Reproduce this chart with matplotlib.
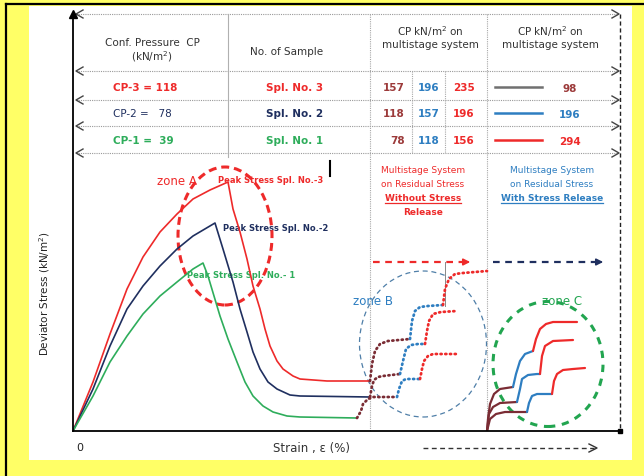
import matplotlib.pyplot as plt
import matplotlib.patches as mpatches

# colours
RED = '#EE2A2A'
NAVY = '#1F2F5F'
GREEN = '#2EAD5B'
BLUE = '#2E7EC1'
MAROON = '#7A2C34'
NUM_MAROON = '#9C3A3A'
GRAY = '#707070'

# ---- schematic stress-strain curves (arbitrary units, origin at 0,0) ----
spl3_strain = [0, 20, 37, 54, 70, 87, 104, 120, 137, 155, 160, 167, 174, 180, 187, 192, 197, 204, 210, 220, 227, 254, 297]
spl3_stress = [0, 49, 97, 142, 174, 199, 217, 232, 241, 249, 222, 199, 172, 145, 122, 102, 85, 70, 62, 55, 52, 50, 50]
spl2_strain = [0, 20, 37, 54, 70, 87, 104, 120, 142, 150, 160, 167, 174, 180, 187, 195, 204, 217, 227, 297]
spl2_stress = [0, 42, 85, 122, 145, 165, 182, 195, 208, 182, 149, 122, 99, 79, 62, 49, 42, 36, 35, 34]
spl1_strain = [0, 20, 37, 54, 70, 87, 104, 120, 130, 135, 147, 155, 164, 172, 180, 190, 200, 214, 227, 284]
spl1_stress = [0, 35, 69, 95, 117, 135, 149, 162, 168, 155, 115, 92, 69, 49, 35, 25, 19, 15, 14, 13]

# zone B : multistage without stress release (dotted), stage order maroon -> blue -> red
zoneB_s1 = {'maroon': ([284, 288, 290, 295, 300, 324], [13, 20, 27, 32, 34, 34]),
            'blue': ([324, 326, 329, 333, 347], [34, 42, 50, 52, 52]),
            'red': ([347, 349, 351, 355, 360, 384], [52, 62, 70, 75, 77, 77])}
zoneB_s2 = {'maroon': ([297, 299, 301, 305, 310, 327], [34, 45, 51, 54, 55, 57]),
            'blue': ([327, 330, 333, 338, 345, 352], [57, 70, 82, 86, 87, 87]),
            'red': ([352, 354, 356, 360, 368, 384], [87, 100, 110, 117, 119, 120])}
zoneB_s3 = {'maroon': ([297, 299, 302, 307, 315, 337], [50, 67, 80, 87, 90, 92]),
            'blue': ([337, 339, 342, 347, 355, 370], [92, 110, 120, 124, 125, 126]),
            'red': ([370, 372, 376, 382, 390, 414], [126, 142, 152, 157, 158, 160])}

# zone C : multistage with stress release (solid)
zoneC_upper = {'maroon': ([414, 415, 417, 421, 427, 440], [0, 12, 27, 37, 42, 44]),
               'blue': ([440, 443, 447, 452, 460], [44, 57, 70, 77, 80]),
               'red': ([460, 463, 467, 473, 480, 504], [80, 92, 102, 107, 109, 109])}
zoneC_middle = {'maroon': ([414, 416, 420, 427, 444], [0, 17, 24, 28, 29]),
                'blue': ([444, 447, 449, 455, 464, 467], [29, 42, 52, 56, 57, 57]),
                'red': ([467, 469, 472, 480, 500], [57, 75, 85, 90, 91])}
zoneC_lower = {'maroon': ([414, 417, 423, 432, 454], [0, 12, 17, 19, 19]),
               'blue': ([454, 456, 459, 464, 472, 479], [19, 28, 35, 37, 37, 37]),
               'red': ([479, 481, 484, 490, 500, 512], [37, 50, 57, 61, 62, 63])}

# ---- table contents ----
cp_labels = ['CP-3 = 118', 'CP-2 =   78', 'CP-1 =  39']
cp_colors = [RED, NAVY, GREEN]
cp_weights = ['bold', 'normal', 'bold']
spl_labels = ['Spl. No. 3', 'Spl. No. 2', 'Spl. No. 1']
ms_first = [157, 118, 78]
ms_second = [196, 157, 118]
ms_third = [235, 196, 156]
release_cp = [98, 196, 294]
release_line_colors = [GRAY, BLUE, RED]
release_text_colors = [NUM_MAROON, BLUE, RED]

stage_colors = {'maroon': MAROON, 'blue': BLUE, 'red': RED}

W, H = 644, 477
fig = plt.figure(figsize=(W / 100, H / 100), dpi=100)
fig.patch.set_facecolor('#FFFF66')

# overlay axes in pixel units for the frame / table / labels
ov = fig.add_axes([0, 0, 1, 1])
ov.set_xlim(0, W)
ov.set_ylim(H, 0)
ov.axis('off')
ov.patch.set_alpha(0)
ov.add_patch(mpatches.Rectangle((29, 7), 603, 454, facecolor='white', edgecolor='none', zorder=0))
ov.plot([6, 6], [5, H], color='black', lw=1.6)
ov.plot([6, W], [5, 5], color='black', lw=1.6)

# data axes for the curves
x0, y0, x1, y1 = 73, 432, 620, 15
ax = fig.add_axes([x0 / W, (H - y0) / H, (x1 - x0) / W, (y0 - y1) / H])
ax.set_xlim(0, x1 - x0)
ax.set_ylim(0, y0 - y1)
ax.patch.set_alpha(0)
for s in ['top', 'right']:
    ax.spines[s].set_visible(False)
ax.spines['left'].set_linewidth(1.3)
ax.spines['bottom'].set_linewidth(1.3)
ax.set_xticks([])
ax.set_yticks([])
ax.plot([0], [y0 - y1], marker='^', color='black', ms=6, clip_on=False)
ax.plot([x1 - x0], [0], marker='s', color='black', ms=3, clip_on=False)

curve = dict(lw=1.2, solid_joinstyle='round', solid_capstyle='round')
ax.plot(spl3_strain, spl3_stress, color=RED, **curve)
ax.plot(spl2_strain, spl2_stress, color=NAVY, **curve)
ax.plot(spl1_strain, spl1_stress, color=GREEN, **curve)

for stair in [zoneB_s1, zoneB_s2, zoneB_s3]:
    for key, (xs, ys) in stair.items():
        ax.plot(xs, ys, color=stage_colors[key], lw=2, linestyle=(0, (0.4, 1.3)),
                dash_capstyle='round')
for stair in [zoneC_upper, zoneC_middle, zoneC_lower]:
    for key, (xs, ys) in stair.items():
        ax.plot(xs, ys, color=stage_colors[key], lw=1.6, solid_capstyle='round',
                solid_joinstyle='round')

# zone ellipses
ax.add_patch(mpatches.Ellipse((152, 195), 94, 138, fill=False, edgecolor=RED, lw=2.2,
                              linestyle=(0, (2.6, 1.6))))
ax.add_patch(mpatches.Ellipse((350, 87), 127, 146, fill=False, edgecolor='#4F7FA8', lw=0.9,
                              linestyle=(0, (4, 3))))
ax.add_patch(mpatches.Ellipse((475, 67), 110, 125, fill=False, edgecolor='#22A550', lw=2.2,
                              linestyle=(0, (2.4, 2.2))))

# ---- table grid ----
def chevron(xtip, y, d, size=7, half=4, color='#444444'):
    ov.plot([xtip - d * size, xtip, xtip - d * size], [y - half, y, y + half], color=color, lw=1)

dot = (0, (1, 1))
for yy in [15, 72, 101, 127, 154]:
    ov.plot([76, 618], [yy, yy], color='#9A9A9A', lw=0.8, linestyle=dot)
    chevron(76, yy, -1)
    chevron(619, yy, 1)
ov.plot([228, 228], [15, 158], color='#B0B0B0', lw=0.8)
for xx in [370, 487]:
    ov.plot([xx, xx], [15, 432], color='#A8A8A8', lw=0.8, linestyle=dot)
for xx in [412, 445]:
    ov.plot([xx, xx], [72, 154], color='#A8A8A8', lw=0.8, linestyle=dot)
ov.plot([620, 620], [15, 432], color='#222222', lw=1, linestyle=(0, (3, 2)))

hdr = dict(fontsize=7.5, color='#333333', ha='center', va='center')
ov.text(152, 43, 'Conf. Pressure  CP', **hdr)
ov.text(152, 57, '(kN/m$^2$)', **hdr)
ov.text(287, 52, 'No. of Sample', **hdr)
for cx in [430, 550]:
    ov.text(cx, 32, 'CP kN/m$^2$ on', **hdr)
    ov.text(cx, 45, 'multistage system', **hdr)

row_y = [88, 114, 141]
for i, yy in enumerate(row_y):
    ov.text(113, yy, cp_labels[i], color=cp_colors[i], fontsize=7.5, fontweight=cp_weights[i],
            ha='left', va='center')
    ov.text(295, yy, spl_labels[i], color=cp_colors[i], fontsize=7.5, fontweight='bold',
            ha='center', va='center')
    ov.text(405, yy, str(ms_first[i]), color=NUM_MAROON, fontsize=7.5, fontweight='bold',
            ha='right', va='center')
    ov.text(429, yy, str(ms_second[i]), color=BLUE, fontsize=7.5, fontweight='bold',
            ha='center', va='center')
    ov.text(464, yy, str(ms_third[i]), color=RED, fontsize=7.5, fontweight='bold',
            ha='center', va='center')
    ov.plot([495, 542], [yy, yy], color=release_line_colors[i], lw=1.8)
    ov.text(570, yy + 1, str(release_cp[i]), color=release_text_colors[i], fontsize=7.5,
            fontweight='bold', ha='center', va='center')

# cursor mark left in the original picture
ov.plot([330, 330], [162, 177], color='black', lw=1.5)

# ---- annotations ----
ov.text(177, 182, 'zone A', color=RED, fontsize=8.5, ha='center', va='center')
ov.text(373, 302, 'zone B', color=BLUE, fontsize=8.5, ha='center', va='center')
ov.text(562, 302, 'zone C', color='#22A550', fontsize=8.5, ha='center', va='center')
ov.text(218, 181, 'Peak Stress Spl. No.-3', color=RED, fontsize=6, fontweight='bold', va='center')
ov.text(223, 229, 'Peak Stress Spl. No.-2', color=NAVY, fontsize=6, fontweight='bold', va='center')
ov.text(187, 276, 'Peak Stress Spl. No.- 1', color=GREEN, fontsize=6, fontweight='bold', va='center')

ms = dict(fontsize=6.5, ha='center', va='center')
ov.text(423, 171, 'Multistage System', color=RED, **ms)
ov.text(423, 185, 'on Residual Stress', color=RED, **ms)
t_red = ov.text(423, 199, 'Without Stress', color=RED, fontweight='bold', **ms)
ov.text(423, 213, 'Release', color=RED, fontweight='bold', **ms)
ov.text(552, 171, 'Multistage System', color=BLUE, **ms)
ov.text(552, 185, 'on Residual Stress', color=BLUE, **ms)
t_blue = ov.text(552, 199, 'With Stress Release', color=BLUE, fontweight='bold', **ms)

# stage arrows
ov.plot([373, 464], [263, 263], color=RED, lw=1.6, linestyle=(0, (3, 2.5)))
ov.annotate('', xy=(473, 263), xytext=(462, 263),
            arrowprops=dict(arrowstyle='-|>', color=RED, lw=1.2, mutation_scale=10))
ov.plot([493, 598], [263, 263], color=NAVY, lw=1.6, linestyle=(0, (3, 2.5)))
ov.annotate('', xy=(606, 263), xytext=(596, 263),
            arrowprops=dict(arrowstyle='-|>', color=NAVY, lw=1.2, mutation_scale=10))
ov.plot([445, 445], [263, 307], color='#888888', lw=0.7)

# axis labels
ov.text(45, 294, 'Deviator Stress (kN/m$^2$)', rotation=90, fontsize=7.5, color='#222222',
        ha='center', va='center')
ov.text(80, 448, '0', fontsize=8, color='#222222', ha='center', va='center')
ov.text(312, 449, 'Strain , \u03b5 (%)', fontsize=8.5, color='#333333', ha='center', va='center')
ov.plot([423, 594], [449, 449], color='#333333', lw=1, linestyle=(0, (3.5, 2.5)))
chevron(597, 449, 1, size=8, half=4, color='#333333')

# underline the bold phrases
fig.canvas.draw()
renderer = fig.canvas.get_renderer()
inv = ov.transData.inverted()
for t, c in [(t_red, RED), (t_blue, BLUE)]:
    bb = t.get_window_extent(renderer)
    (xa, ya), (xb, yb) = inv.transform([[bb.x0, bb.y0], [bb.x1, bb.y1]])
    ov.plot([xa, xb], [ya + 0.5, ya + 0.5], color=c, lw=0.9)

fig.savefig('out.png', dpi=100)
